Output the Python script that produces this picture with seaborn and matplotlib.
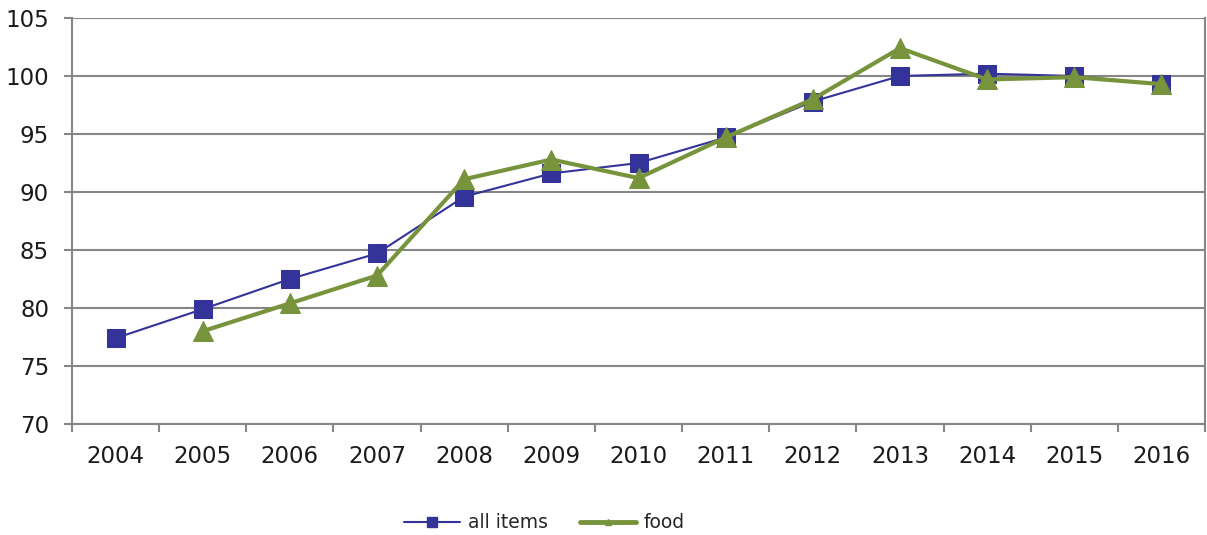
import matplotlib
matplotlib.use("Agg")
import matplotlib.pyplot as plt
from matplotlib.lines import Line2D
import seaborn as sns
import numpy as np
import pandas as pd

years = ["2004", "2005", "2006", "2007", "2008", "2009", "2010",
         "2011", "2012", "2013", "2014", "2015", "2016"]
all_items = [77.4, 79.9, 82.5, 84.7, 89.6, 91.6, 92.5, 94.7, 97.8, 100.0, 100.2, 100.0, 99.3]
food = [np.nan, 78.0, 80.4, 82.8, 91.1, 92.8, 91.2, 94.7, 98.0, 102.4, 99.7, 99.9, 99.3]
y_ticks = [70, 75, 80, 85, 90, 95, 100, 105]

sns.set_theme(style="white")
plt.rcParams['font.family'] = ['DejaVu Sans']

fig = plt.figure(figsize=(12.07, 5.35), dpi=100)
ax = fig.add_axes([72/1207, 1-424/535, (1205-72)/1207, (424-18)/535])

blue = "#333399"
green = "#77933C"
x = np.arange(len(years))
df = pd.DataFrame({"x": np.concatenate([x, x]),
                   "value": all_items + food,
                   "series": ["all items"] * len(x) + ["food"] * len(x)})

sns.lineplot(data=df[df.series == "all items"], x="x", y="value", ax=ax,
             color=blue, linewidth=1.5, marker="s", markersize=13,
             markeredgecolor=blue, legend=False)
sns.lineplot(data=df[df.series == "food"].dropna(), x="x", y="value", ax=ax,
             color=green, linewidth=3, marker="^", markersize=15,
             markeredgecolor=green, legend=False)

gray = "#868686"
ax.set_xlim(-0.5, len(years) - 0.5)
ax.set_ylim(70, 105)
ax.set_yticks(y_ticks)
ax.set_yticklabels([str(v) for v in y_ticks], fontsize=16.5, color="#1a1a1a")
ax.set_xticks(x)
ax.set_xticklabels(years, fontsize=16.5, color="#1a1a1a")
ax.set_xticks(np.arange(-0.5, len(years) + 0.5, 1), minor=True)
ax.tick_params(axis="x", which="major", length=0, pad=15)
ax.tick_params(axis="x", which="minor", length=6, width=1.5, color=gray, direction="out", bottom=True)
ax.tick_params(axis="y", which="major", length=6, width=1.5, color=gray, direction="out", left=True, pad=10.5)
ax.set_xlabel("")
ax.set_ylabel("")
ax.yaxis.grid(True, color=gray, linewidth=1.5)
ax.set_axisbelow(True)
for side in ["left", "bottom", "right"]:
    ax.spines[side].set_visible(True)
    ax.spines[side].set_color(gray)
    ax.spines[side].set_linewidth(1.5)
ax.spines["top"].set_visible(False)

handles = [
    Line2D([], [], color=blue, linewidth=1.5, marker="s", markersize=7, markeredgecolor=blue),
    Line2D([], [], color=green, linewidth=3.5, marker="^", markersize=5, markeredgecolor=green),
]
fig.legend(handles, ["all items", "food"], loc="center", bbox_to_anchor=(0.451, 1 - 523/535), ncol=2,
           frameon=False, fontsize=13.5, handlelength=3.0, columnspacing=1.7,
           handletextpad=0.4)

fig.savefig("out.png", dpi=100, facecolor="white")
